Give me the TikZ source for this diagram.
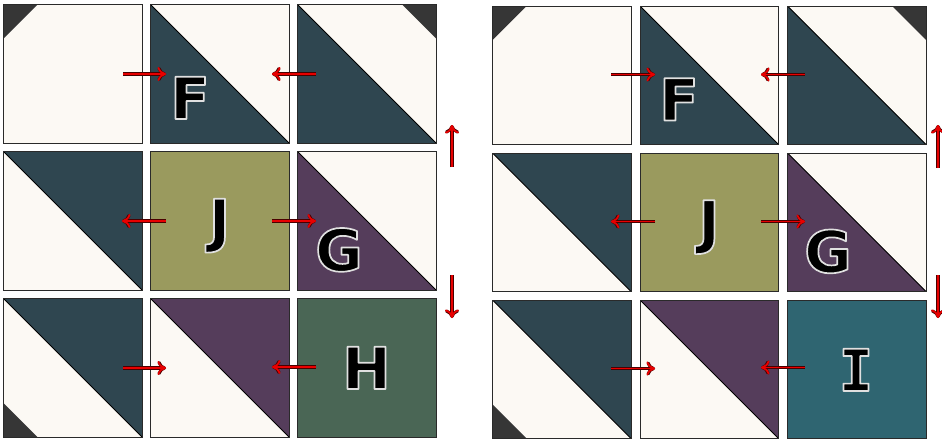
\documentclass[tikz,border=0pt]{standalone}
\usepackage{fontspec}
\usetikzlibrary{arrows.meta}
\newfontfamily\lblfont{DejaVu Sans}
\newfontfamily\lblmono{DejaVu Sans Mono}
\definecolor{cream}{HTML}{FCF9F4}
\definecolor{dteal}{HTML}{2F4650}
\definecolor{plum}{HTML}{553D5B}
\definecolor{olive}{HTML}{9A9A5E}
\definecolor{sage}{HTML}{4A6655}
\definecolor{teal2}{HTML}{2F6571}
\definecolor{cornerc}{HTML}{363636}
\definecolor{tileline}{HTML}{2A2A2A}
\definecolor{arrred}{HTML}{E80000}
\definecolor{arrdark}{HTML}{4A0000}
\newcommand\outlined[1]{\special{pdf:literal direct 2 Tr 1.7 w 0.88 G 1 j}#1\special{pdf:literal direct 0 Tr}}
\newcommand\pplowleft[1]{\fill[#1] (path picture bounding box.north west) -- (path picture bounding box.south west) -- (path picture bounding box.south east) -- cycle; \draw[diagline] (path picture bounding box.north west) -- (path picture bounding box.south east);}
\newcommand\ppupright[1]{\fill[#1] (path picture bounding box.north west) -- (path picture bounding box.north east) -- (path picture bounding box.south east) -- cycle; \draw[diagline] (path picture bounding box.north west) -- (path picture bounding box.south east);}
\newcommand\ppcornerNW{\fill[cornerc] (path picture bounding box.north west) -- ++(34,0) -- ++(-34,34) -- cycle;}
\newcommand\ppcornerNE{\fill[cornerc] (path picture bounding box.north east) -- ++(-34,0) -- ++(34,34) -- cycle;}
\newcommand\ppcornerSW{\fill[cornerc] (path picture bounding box.south west) -- ++(34,0) -- ++(-34,-34) -- cycle;}
\begin{document}
\begin{tikzpicture}[x=1pt,y=-1pt,
  tile/.style={draw=tileline, line width=0.9pt, fill=cream, minimum size=138.5pt, inner sep=0pt},
  diagline/.style={draw=black, line width=0.8pt},
  lbl/.style={font=\lblfont\bfseries\fontsize{58}{58}\selectfont, anchor=base, inner sep=0pt, text=black},
  lblI/.style={font=\lblmono\bfseries\fontsize{58}{58}\selectfont, anchor=base, inner sep=0pt, text=black},
  arr/.style={draw=arrred, line width=1.8pt, -{To[length=8.5pt,width=14pt]},
    preaction={draw=arrdark, line width=3.1pt, -{To[length=8.5pt,width=14pt]}}}]
\useasboundingbox (0,0) rectangle (942,442);
\fill[white] (0,0) rectangle (942,442);
% ---------- left grid ----------
\node[tile, path picture={\ppcornerNW}] (L11) at (72.75,73.75) {};
\node[tile, path picture={\pplowleft{dteal}}] (L12) at (219.75,73.75) {};
\node[tile, path picture={\pplowleft{dteal}\ppcornerNE}] (L13) at (366.75,73.75) {};
\node[tile, path picture={\ppupright{dteal}}] (L21) at (72.75,220.75) {};
\node[tile, fill=olive] (L22) at (219.75,220.75) {};
\node[tile, path picture={\pplowleft{plum}}] (L23) at (366.75,220.75) {};
\node[tile, path picture={\ppupright{dteal}\ppcornerSW}] (L31) at (72.75,367.75) {};
\node[tile, path picture={\ppupright{plum}}] (L32) at (219.75,367.75) {};
\node[tile, fill=sage] (L33) at (366.75,367.75) {};
% ---------- right grid ----------
\node[tile, path picture={\ppcornerNW}] (R11) at (561.75,75.25) {};
\node[tile, path picture={\pplowleft{dteal}}] (R12) at (709.25,75.25) {};
\node[tile, path picture={\pplowleft{dteal}\ppcornerNE}] (R13) at (856.75,75.25) {};
\node[tile, path picture={\ppupright{dteal}}] (R21) at (561.75,222.25) {};
\node[tile, fill=olive] (R22) at (709.25,222.25) {};
\node[tile, path picture={\pplowleft{plum}}] (R23) at (856.75,222.25) {};
\node[tile, path picture={\ppupright{dteal}\ppcornerSW}] (R31) at (561.75,369.25) {};
\node[tile, path picture={\ppupright{plum}}] (R32) at (709.25,369.25) {};
\node[tile, fill=teal2] (R33) at (856.75,369.25) {};
% ---------- labels ----------
\node[lbl] (lF) at (190,119) {\outlined{F}};
\node[lbl] (lJ) at (219.5,241) {\outlined{J}};
\node[lbl] (lG) at (339,271) {\outlined{G}};
\node[lbl] (lH) at (366.5,389) {\outlined{H}};
\node[lbl] (rF) at (679,120.5) {\outlined{F}};
\node[lbl] (rJ) at (709,242.5) {\outlined{J}};
\node[lbl] (rG) at (828,272.5) {\outlined{G}};
\node[lblI] (rI) at (856,391) {\outlined{I}};
% ---------- arrow end points ----------
\coordinate (a1s) at (123,74);  \coordinate (a1e) at (166,74);
\coordinate (a2s) at (316,74);  \coordinate (a2e) at (272,74);
\coordinate (a3s) at (166,221); \coordinate (a3e) at (122,221);
\coordinate (a4s) at (272,221); \coordinate (a4e) at (316,221);
\coordinate (a5s) at (123,368); \coordinate (a5e) at (166,368);
\coordinate (a6s) at (316,367); \coordinate (a6e) at (272,367);
\coordinate (a7s) at (452,167); \coordinate (a7e) at (452,125);
\coordinate (a8s) at (452,275); \coordinate (a8e) at (452,318);
\coordinate (b1s) at (611,74.5);  \coordinate (b1e) at (655,74.5);
\coordinate (b2s) at (805,74.5);  \coordinate (b2e) at (761,74.5);
\coordinate (b3s) at (655,221.5); \coordinate (b3e) at (611,221.5);
\coordinate (b4s) at (761,221.5); \coordinate (b4e) at (805,221.5);
\coordinate (b5s) at (611,368.5); \coordinate (b5e) at (655,368.5);
\coordinate (b6s) at (805,367.5); \coordinate (b6e) at (761,367.5);
\coordinate (b7s) at (938,168); \coordinate (b7e) at (938,125);
\coordinate (b8s) at (938,275); \coordinate (b8e) at (938,318);
\foreach \p in {a1,a2,a3,a4,a5,a6,a7,a8,b1,b2,b3,b4,b5,b6,b7,b8}
  \draw[arr] (\p s) -- (\p e);
\end{tikzpicture}
\end{document}
